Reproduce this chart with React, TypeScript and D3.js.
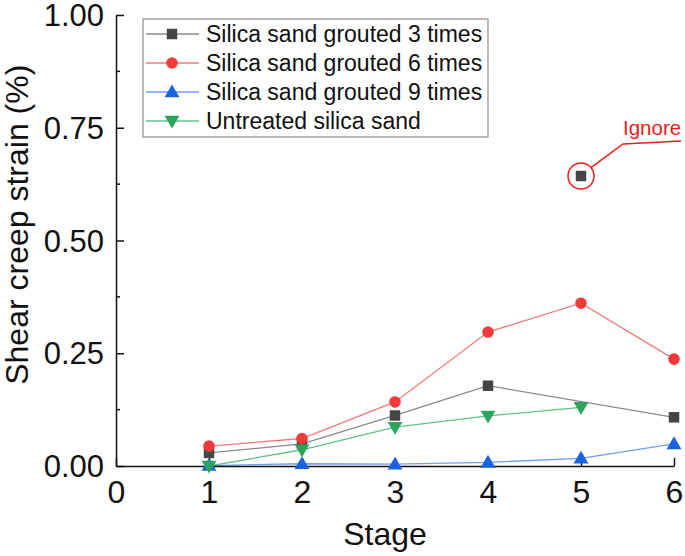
import { useEffect, useRef } from 'react';
import * as d3 from 'd3';

// Data
const stages = [1, 2, 3, 4, 5, 6];
const grouted3 = [0.029, 0.049, 0.112, 0.178, 0.643, 0.108];
const grouted3Ignored = [5]; // stage whose point is excluded from the line
const grouted6 = [0.044, 0.061, 0.142, 0.297, 0.361, 0.237];
const grouted9 = [0.001, 0.005, 0.004, 0.008, 0.017, 0.049];
const untreatedStages = [1, 2, 3, 4, 5];
const untreated = [0.0, 0.036, 0.086, 0.111, 0.13];

const xTicks = [0, 1, 2, 3, 4, 5, 6];
const yTicks = [0, 0.25, 0.5, 0.75, 1.0];
const yMinorTicks = [0.125, 0.375, 0.625, 0.875];

interface Series {
  name: string;
  xs: number[];
  ys: number[];
  skip: number[];
  symbol: d3.SymbolType;
  size: number;
  rotate: number;
  marker: string;
  line: string;
}

const series: Series[] = [
  { name: 'Silica sand grouted 3 times', xs: stages, ys: grouted3, skip: grouted3Ignored, symbol: d3.symbolSquare, size: 110, rotate: 0, marker: '#454545', line: '#8a8a8a' },
  { name: 'Silica sand grouted 6 times', xs: stages, ys: grouted6, skip: [], symbol: d3.symbolCircle, size: 105, rotate: 0, marker: '#f23a3a', line: '#f27a7a' },
  { name: 'Silica sand grouted 9 times', xs: stages, ys: grouted9, skip: [], symbol: d3.symbolTriangle, size: 95, rotate: 0, marker: '#1a63e0', line: '#6f9ff0' },
  { name: 'Untreated silica sand', xs: untreatedStages, ys: untreated, skip: [], symbol: d3.symbolTriangle, size: 95, rotate: 180, marker: '#2ea35e', line: '#62c08a' },
];

const FONT = "'Liberation Sans', Arial, sans-serif";

export default function App() {
  const svgRef = useRef<SVGSVGElement>(null);

  useEffect(() => {
    if (!svgRef.current) return;
    const root = d3.select(svgRef.current);
    root.selectAll('*').remove();

    const width = 685;
    const height = 556;
    const margin = { top: 15, right: 11, bottom: 90, left: 116 };

    const x = d3.scaleLinear().domain([0, 6]).range([margin.left, width - margin.right]);
    const y = d3.scaleLinear().domain([0, 1]).range([height - margin.bottom, margin.top]);

    const svg = root.attr('width', width).attr('height', height).style('font-family', FONT);

    // Lines (behind markers)
    series.forEach((s) => {
      const pts = s.xs.map((xv, i) => ({ x: xv, y: s.ys[i] })).filter((p) => !s.skip.includes(p.x));
      const line = d3.line<{ x: number; y: number }>().x((d) => x(d.x)).y((d) => y(d.y));
      svg.append('path').datum(pts).attr('fill', 'none').attr('stroke', s.line).attr('stroke-width', 1.3).attr('d', line);
    });

    // Axes
    const xAxis = d3.axisBottom(x).tickValues(xTicks).tickSizeInner(-8).tickSizeOuter(0).tickPadding(14).tickFormat((d) => String(d));
    const gx = svg.append('g').attr('transform', `translate(0,${y(0)})`).call(xAxis);
    gx.select('.domain').attr('stroke', '#111').attr('stroke-width', 1.5);
    gx.selectAll('line').attr('stroke', '#111').attr('stroke-width', 1.5);
    gx.selectAll('text').attr('font-size', 32).attr('fill', '#111').attr('font-family', FONT).attr('dy', '0.71em');

    const yAxis = d3.axisLeft(y).tickValues(yTicks).tickSizeInner(-8).tickSizeOuter(0).tickPadding(12).tickFormat(d3.format('.2f'));
    const gy = svg.append('g').attr('transform', `translate(${x(0)},0)`).call(yAxis);
    gy.select('.domain').attr('stroke', '#111').attr('stroke-width', 1.5);
    gy.selectAll('line').attr('stroke', '#111').attr('stroke-width', 1.5);
    gy.selectAll('text').attr('font-size', 31).attr('fill', '#111').attr('font-family', FONT).attr('dy', '0.34em');

    svg
      .append('g')
      .selectAll('line')
      .data(yMinorTicks)
      .join('line')
      .attr('x1', x(0))
      .attr('x2', x(0) + 4)
      .attr('y1', (d) => y(d))
      .attr('y2', (d) => y(d))
      .attr('stroke', '#111')
      .attr('stroke-width', 1.5);

    // Axis titles
    svg
      .append('text')
      .attr('x', (x(0) + x(6)) / 2 - 10)
      .attr('y', 545)
      .attr('text-anchor', 'middle')
      .attr('font-size', 32)
      .attr('fill', '#111')
      .text('Stage');

    svg
      .append('text')
      .attr('transform', `translate(28,${y(0.535)}) rotate(-90)`)
      .attr('text-anchor', 'middle')
      .attr('font-size', 32)
      .attr('fill', '#111')
      .text('Shear creep strain (%)');

    // Markers
    series.forEach((s) => {
      const sym = d3.symbol().type(s.symbol).size(s.size);
      svg
        .append('g')
        .selectAll('path')
        .data(s.xs.map((xv, i) => ({ x: xv, y: s.ys[i] })))
        .join('path')
        .attr('d', sym)
        .attr('transform', (d) => `translate(${x(d.x)},${y(d.y) + (s.rotate ? -1 : s.symbol === d3.symbolTriangle ? 1 : 0)}) rotate(${s.rotate})`)
        .attr('fill', s.marker);
    });

    // "Ignore" annotation
    const cx = x(5);
    const cy = y(grouted3[4]);
    const r = 13;
    svg.append('circle').attr('cx', cx).attr('cy', cy).attr('r', r).attr('fill', 'none').attr('stroke', '#ee1c1c').attr('stroke-width', 1.5);
    const a = (-40 * Math.PI) / 180;
    svg
      .append('path')
      .attr('d', `M${cx + r * Math.cos(a)},${cy + r * Math.sin(a)} L${cx + 42},${cy - 32} L${cx + 100},${cy - 35}`)
      .attr('fill', 'none')
      .attr('stroke', '#ee1c1c')
      .attr('stroke-width', 1.5);
    svg.append('text').attr('x', cx + 42).attr('y', cy - 41).attr('font-size', 20.5).attr('fill', '#ee1c1c').text('Ignore');

    // Legend
    const lg = svg.append('g').attr('transform', 'translate(143,19)');
    lg.append('rect').attr('width', 345).attr('height', 118).attr('fill', 'white').attr('stroke', '#777').attr('stroke-width', 1);
    series.forEach((s, i) => {
      const row = lg.append('g').attr('transform', `translate(0,${15 + i * 29})`);
      row.append('line').attr('x1', 3).attr('x2', 56).attr('stroke', s.line).attr('stroke-width', 1.3);
      row
        .append('path')
        .attr('d', d3.symbol().type(s.symbol).size(s.size)())
        .attr('transform', `translate(29,${s.rotate ? -1 : s.symbol === d3.symbolTriangle ? 1 : 0}) rotate(${s.rotate})`)
        .attr('fill', s.marker);
      row.append('text').attr('x', 63).attr('y', 8).attr('font-size', 23).attr('fill', '#111').text(s.name);
    });
  }, []);

  return <svg ref={svgRef} style={{ position: 'absolute', left: 0, top: 0, background: 'white' }} />;
}
